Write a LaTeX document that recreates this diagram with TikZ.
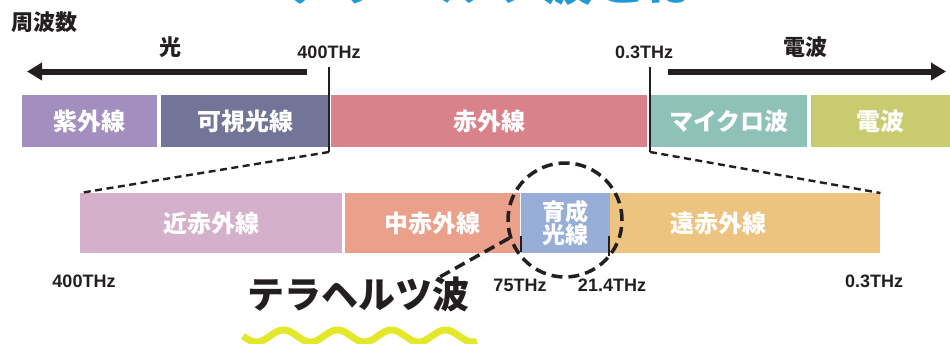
\documentclass[tikz,border=0pt]{standalone}
\usepackage{fontspec}
\setmainfont{Liberation Sans}
\newfontfamily\jp{Noto Sans CJK JP}
\usetikzlibrary{arrows.meta}
\definecolor{cUV}{HTML}{A28FBF}
\definecolor{cVIS}{HTML}{737598}
\definecolor{cIR}{HTML}{D9828B}
\definecolor{cMW}{HTML}{8EC1B8}
\definecolor{cRW}{HTML}{C8CB6E}
\definecolor{cNIR}{HTML}{D4B0CA}
\definecolor{cMIR}{HTML}{EAA08A}
\definecolor{cGRO}{HTML}{98AED6}
\definecolor{cFIR}{HTML}{ECC37F}
\definecolor{cTitle}{HTML}{1E9AD8}
\definecolor{cWave}{HTML}{E4E82A}
\definecolor{ink}{HTML}{231F20}
\begin{document}
\begin{tikzpicture}[x=1pt,y=-1pt,
  band/.style={inner sep=0pt, anchor=north west, text=white,
    font=\jp\bfseries\fontsize{24}{24}\selectfont},
  bandlabel/.style={inner sep=0pt, text=white,
    font=\jp\bfseries\fontsize{24}{24}\selectfont},
  freq/.style={inner sep=0pt, text=ink, font=\bfseries\fontsize{18}{18}\selectfont},
  head/.style={inner sep=0pt, text=ink, font=\jp\bfseries\fontsize{22}{22}\selectfont},
  bigarrow/.style={line width=6pt, draw=ink, -{Triangle[length=15pt,width=17pt]}},
  tick/.style={line width=2.5pt, draw=ink},
  thintick/.style={line width=1.2pt, draw=ink},
  zoomline/.style={line width=2.4pt, draw=ink, dash pattern=on 7pt off 4.5pt},
  ring/.style={circle, draw=ink, line width=3.5pt, dash pattern=on 11pt off 6pt, inner sep=0pt},
  ringline/.style={line width=3.5pt, draw=ink, dash pattern=on 11pt off 6pt},
  wave/.style={line width=7pt, draw=cWave},
]
\useasboundingbox (0,0) rectangle (950,343);
\begin{scope}
\clip (0,0) rectangle (950,343);
% partly visible title
\node[inner sep=0pt, anchor=base west, text=cTitle,
  font=\jp\bfseries\fontsize{52}{52}\selectfont] (title) at (282,0) {テラヘルツ波とは};
% yellow wave
\draw[wave] plot[domain=0:234, samples=200] ({243+\x}, {336 + 6*sin(\x*6.6667)});
\end{scope}

% header labels
\node[head] (shuha) at (44,22) {周波数};
\node[head] (hikari) at (170,47) {光};
\node[head] (denpa) at (805,47) {電波};
\node[freq] (t400) at (329,52) {400THz};
\node[freq] (t03) at (644,52) {0.3THz};

% arrows
\coordinate (la1) at (307,71.5);
\coordinate (la2) at (27,71.5);
\coordinate (ra1) at (668,71.5);
\coordinate (ra2) at (946,71.5);
\draw[bigarrow] (la1) -- (la2);
\draw[bigarrow] (ra1) -- (ra2);

% top band
\node[band, fill=cUV, minimum width=135pt, minimum height=52pt] (uv) at (22,95) {紫外線};
\node[band, fill=cVIS, minimum width=168pt, minimum height=52pt] (vis) at (161,95) {可視光線};
\node[band, fill=cIR, minimum width=316pt, minimum height=52pt] (ir) at (331,95) {赤外線};
\node[band, fill=cMW, minimum width=156pt, minimum height=52pt] (mw) at (651,95) {マイクロ波};
\node[band, fill=cRW, minimum width=139pt, minimum height=52pt] (rw) at (811,95) {電波};

% bottom band
\node[band, fill=cNIR, minimum width=262pt, minimum height=60pt] (nir) at (80,193) {近赤外線};
\node[band, fill=cMIR, minimum width=175pt, minimum height=60pt] (mir) at (345,193) {中赤外線};
\node[band, fill=cGRO, minimum width=89pt, minimum height=60pt, align=center,
  font=\jp\bfseries\fontsize{23}{23}\selectfont] (gro) at (521,193) {育成\\光線};
\node[band, fill=cFIR, minimum width=270pt, minimum height=60pt] (fir) at (610,193) {};
\node[bandlabel] (firl) at (718,223) {遠赤外線};

% boundary ticks
\coordinate (k1a) at (329,67);
\coordinate (k1b) at (329,152);
\coordinate (k2a) at (650,67);
\coordinate (k2b) at (650,152);
\draw[tick] (k1a) -- (k1b);
\draw[tick] (k2a) -- (k2b);

% zoom lines
\draw[zoomline] (k1b) -- (nir.north west);
\draw[zoomline] (k2b) -- (fir.north east);

% small ticks in bottom band
\coordinate (s1a) at (521,236);
\coordinate (s1b) at (521,252);
\coordinate (s2a) at (609,236);
\coordinate (s2b) at (609,256);
\draw[thintick] (s1a) -- (s1b);
\draw[thintick] (s2a) -- (s2b);

% frequency labels bottom
\node[freq] (b400) at (84,281) {400THz};
\node[freq] (b75) at (520,285) {75THz};
\node[freq] (b214) at (612,285) {21.4THz};
\node[freq] (b03) at (874,281) {0.3THz};

% dashed ring and pointer
\node[ring, minimum size=114pt] (ringn) at (565,220) {};
\coordinate (tzend) at (438,278);
\draw[ringline] (ringn.198) -- (tzend);

% terahertz label
\node[inner sep=0pt, text=ink, font=\jp\bfseries\fontsize{37}{37}\selectfont] (tz) at (358,294) {テラヘルツ波};
\end{tikzpicture}
\end{document}
